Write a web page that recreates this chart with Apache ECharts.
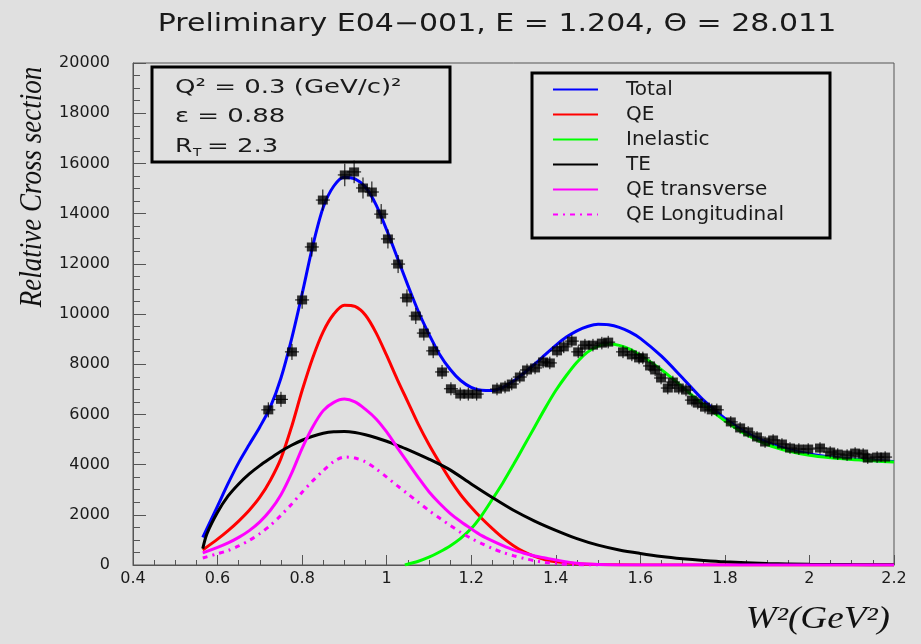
<!DOCTYPE html>
<html>
<head>
<meta charset="utf-8">
<script src="https://cdn.jsdelivr.net/npm/echarts@6/dist/echarts.min.js"></script>
<style>
  html, body { margin: 0; padding: 0; background: #e0e0e0; }
  #chart { width: 921px; height: 644px; }
</style>
</head>
<body>
<div id="chart"></div>
<script>
// ---------------- data ----------------
const titleText = 'Preliminary E04\u2212001, E = 1.204, \u0398 = 28.011';
const xTicks = [0.4, 0.6, 0.8, 1, 1.2, 1.4, 1.6, 1.8, 2, 2.2];
const yTicks = [0, 2000, 4000, 6000, 8000, 10000, 12000, 14000, 16000, 18000, 20000];
const legendNames = ['Total', 'QE', 'Inelastic', 'TE', 'QE transverse', 'QE Longitudinal'];

const totalCurve = [[0.565,1100],[0.6,2350],[0.625,3250],[0.65,4080],[0.675,4800],[0.7,5500],[0.725,6300],[0.75,7450],[0.775,9000],[0.8,10800],[0.825,12700],[0.85,14250],[0.875,15100],[0.9,15450],[0.925,15380],[0.95,15050],[0.975,14350],[1.0,13350],[1.025,12250],[1.05,11150],[1.075,10100],[1.1,9200],[1.125,8400],[1.15,7800],[1.175,7350],[1.2,7080],[1.225,6960],[1.25,6950],[1.275,7080],[1.3,7330],[1.325,7650],[1.35,8000],[1.375,8380],[1.4,8750],[1.425,9080],[1.45,9330],[1.475,9500],[1.5,9590],[1.525,9570],[1.55,9470],[1.575,9290],[1.6,9030],[1.65,8320],[1.7,7450],[1.75,6560],[1.8,5840],[1.85,5280],[1.9,4880],[1.95,4600],[2.0,4420],[2.05,4300],[2.1,4220],[2.15,4160],[2.2,4120]];
const qeCurve = [[0.565,600],[0.6,1030],[0.625,1370],[0.65,1750],[0.675,2180],[0.7,2700],[0.725,3380],[0.75,4250],[0.775,5500],[0.8,6950],[0.825,8250],[0.85,9300],[0.875,10000],[0.9,10350],[0.925,10300],[0.95,9950],[0.975,9250],[1.0,8350],[1.025,7400],[1.05,6500],[1.075,5600],[1.1,4800],[1.125,4080],[1.15,3400],[1.175,2800],[1.2,2300],[1.225,1850],[1.25,1450],[1.275,1080],[1.3,770],[1.325,520],[1.35,340],[1.375,210],[1.4,130],[1.45,50],[1.5,15],[1.6,0],[1.9,0],[2.2,0]];
const inelasticCurve = [[1.043,0],[1.075,150],[1.1,310],[1.125,520],[1.15,760],[1.175,1060],[1.2,1450],[1.225,1980],[1.25,2620],[1.275,3280],[1.3,4000],[1.325,4750],[1.35,5500],[1.375,6250],[1.4,6950],[1.425,7550],[1.45,8080],[1.475,8480],[1.5,8720],[1.525,8800],[1.55,8750],[1.575,8600],[1.6,8360],[1.65,7780],[1.7,7080],[1.75,6380],[1.8,5750],[1.85,5200],[1.9,4800],[1.95,4540],[2.0,4370],[2.05,4270],[2.1,4200],[2.15,4150],[2.2,4100]];
const teCurve = [[0.565,650],[0.575,1250],[0.6,2100],[0.625,2750],[0.65,3230],[0.675,3630],[0.7,3960],[0.725,4250],[0.75,4530],[0.775,4770],[0.8,4970],[0.825,5130],[0.85,5250],[0.875,5310],[0.9,5320],[0.925,5280],[0.95,5190],[0.975,5070],[1.0,4930],[1.025,4770],[1.05,4600],[1.1,4220],[1.15,3790],[1.2,3230],[1.25,2690],[1.3,2180],[1.35,1750],[1.4,1380],[1.45,1050],[1.5,790],[1.55,600],[1.6,460],[1.65,340],[1.7,250],[1.75,180],[1.8,125],[1.9,60],[2.0,30],[2.1,15],[2.2,8]];
const qeTransCurve = [[0.565,480],[0.6,700],[0.625,880],[0.65,1100],[0.675,1370],[0.7,1720],[0.725,2180],[0.75,2800],[0.775,3650],[0.8,4650],[0.825,5500],[0.85,6150],[0.875,6480],[0.9,6610],[0.925,6500],[0.95,6200],[0.975,5820],[1.0,5300],[1.025,4680],[1.05,4080],[1.075,3480],[1.1,2920],[1.125,2460],[1.15,2060],[1.175,1730],[1.2,1440],[1.225,1170],[1.25,960],[1.275,770],[1.3,600],[1.325,470],[1.35,360],[1.375,280],[1.4,200],[1.45,70],[1.5,20],[1.6,0],[1.9,0],[2.2,0]];
const qeLongCurve = [[0.565,280],[0.6,450],[0.625,580],[0.65,760],[0.675,980],[0.7,1250],[0.725,1580],[0.75,1980],[0.775,2420],[0.8,2900],[0.825,3350],[0.85,3760],[0.875,4120],[0.9,4300],[0.925,4260],[0.95,4110],[0.975,3830],[1.0,3500],[1.025,3160],[1.05,2830],[1.075,2500],[1.1,2170],[1.125,1870],[1.15,1580],[1.175,1300],[1.2,1060],[1.225,850],[1.25,660],[1.275,500],[1.3,370],[1.325,260],[1.35,170],[1.375,100],[1.4,55],[1.45,10],[1.5,0]];

const pointX = [0.72,0.75,0.776,0.80,0.823,0.849,0.901,0.923,0.944,0.965,0.987,1.003,1.027,1.048,1.069,1.088,1.11,1.131,1.152,1.174,1.193,1.213,1.261,1.28,1.296,1.315,1.332,1.351,1.37,1.386,1.403,1.419,1.438,1.453,1.469,1.488,1.509,1.524,1.559,1.58,1.597,1.606,1.623,1.635,1.649,1.665,1.677,1.691,1.708,1.722,1.736,1.753,1.769,1.781,1.814,1.836,1.855,1.876,1.895,1.914,1.935,1.954,1.975,1.997,2.025,2.049,2.067,2.089,2.108,2.127,2.138,2.16,2.179];
const pointY = [6180,6600,8490,10560,12670,14540,15540,15660,15020,14860,13980,12990,11990,10640,9920,9240,8530,7690,7020,6810,6810,6810,7010,7090,7210,7490,7770,7850,8090,8050,8530,8690,8920,8490,8760,8760,8840,8880,8490,8370,8250,8250,7930,7770,7450,7050,7290,7050,6970,6570,6450,6290,6180,6180,5700,5460,5300,5100,4900,4980,4820,4660,4620,4620,4660,4500,4420,4380,4460,4420,4260,4300,4300];
const pointErr = [300,300,320,350,380,420,450,450,420,420,400,380,360,340,320,300,290,280,260,260,260,260,250,250,250,250,250,250,250,250,250,250,250,250,250,250,250,250,250,250,250,250,250,250,250,250,250,250,250,250,250,250,250,250,230,230,230,230,230,230,230,230,230,230,230,230,230,230,230,230,230,230,230];

// ---------------- chart ----------------
const pointData = pointX.map((x, i) => [x, pointY[i], pointErr[i]]);
const axisColor = '#555';
const textColor = '#1a1a1a';
const sans = '"DejaVu Sans", sans-serif';
const serif = '"Liberation Serif", "DejaVu Serif", serif';

function curve(name, data, color, type) {
  return {
    name: name, type: 'line', data: data, smooth: 0.3, symbol: 'none', showSymbol: false,
    lineStyle: { color: color, width: 3, type: type || 'solid' },
    itemStyle: { color: color }, z: 3
  };
}

const chart = echarts.init(document.getElementById('chart'), null, { renderer: 'canvas' });
chart.setOption({
  animation: false,
  backgroundColor: '#e0e0e0',
  grid: { left: 133, right: 27, top: 63, bottom: 79, show: true, borderColor: axisColor, borderWidth: 1, backgroundColor: 'transparent' },
  xAxis: {
    type: 'value', min: xTicks[0], max: xTicks[xTicks.length - 1], interval: 0.2,
    axisLine: { show: true, onZero: false, lineStyle: { color: axisColor, width: 1 } },
    axisTick: { show: true, inside: true, length: 10, lineStyle: { color: axisColor } },
    minorTick: { show: true, splitNumber: 4, length: 5, lineStyle: { color: axisColor } },
    splitLine: { show: false },
    axisLabel: { color: textColor, fontSize: 16, fontFamily: sans, margin: 6 }
  },
  yAxis: {
    type: 'value', min: yTicks[0], max: yTicks[yTicks.length - 1], interval: 2000,
    axisLine: { show: true, lineStyle: { color: axisColor, width: 1 } },
    axisTick: { show: true, inside: true, length: 13, lineStyle: { color: axisColor } },
    minorTick: { show: true, splitNumber: 4, length: 7, lineStyle: { color: axisColor } },
    splitLine: { show: false },
    axisLabel: { color: textColor, fontSize: 16, fontFamily: sans, margin: 23, formatter: function (v) { return String(v); } }
  },
  legend: {
    orient: 'vertical', left: 547, top: 72, itemWidth: 45, itemHeight: 14, itemGap: 0,
    selectedMode: false, data: legendNames,
    itemStyle: { opacity: 0 },
    textStyle: { fontSize: 20, fontFamily: sans, color: textColor, lineHeight: 25, padding: [0, 0, 0, 23] }
  },
  series: [
    curve(legendNames[0], totalCurve, '#0000ff'),
    curve(legendNames[1], qeCurve, '#ff0000'),
    curve(legendNames[2], inelasticCurve, '#00ff00'),
    curve(legendNames[3], teCurve, '#000000'),
    curve(legendNames[4], qeTransCurve, '#ff00ff'),
    curve(legendNames[5], qeLongCurve, '#ff00ff', [5, 5, 2, 5]),
    {
      name: 'Data errors', type: 'custom', data: pointData, z: 5,
      encode: { x: 0, y: 1 },
      renderItem: function (params, api) {
        const x = api.value(0), y = api.value(1), e = api.value(2);
        const top = api.coord([x, y + e]);
        const bot = api.coord([x, y - e]);
        const c = api.coord([x, y]);
        return {
          type: 'group',
          children: [
            { type: 'line', shape: { x1: top[0], y1: top[1], x2: bot[0], y2: bot[1] }, style: { stroke: '#000', lineWidth: 1 } },
            { type: 'line', shape: { x1: c[0] - 7, y1: c[1], x2: c[0] + 7, y2: c[1] }, style: { stroke: '#000', lineWidth: 1 } }
          ]
        };
      }
    },
    {
      name: 'Data', type: 'scatter', data: pointData, symbol: 'rect', symbolSize: [10, 9],
      itemStyle: { color: '#000' }, z: 6
    }
  ],
  graphic: [
    { type: 'text', x: 497, y: 25, scaleX: 1.25, style: { text: titleText, fontSize: 24, fontFamily: sans, fill: textColor, align: 'center', verticalAlign: 'middle' } },
    { type: 'rect', shape: { x: 152, y: 67, width: 298, height: 95 }, style: { fill: 'none', stroke: '#000', lineWidth: 3 } },
    { type: 'text', x: 175, y: 88, scaleX: 1.3, style: { text: 'Q\u00b2 = 0.3 (GeV/c)\u00b2', fontSize: 20, fontFamily: sans, fill: textColor, align: 'left', verticalAlign: 'middle' } },
    { type: 'text', x: 175, y: 117, scaleX: 1.3, style: { text: '\u03b5 = 0.88', fontSize: 20, fontFamily: sans, fill: textColor, align: 'left', verticalAlign: 'middle' } },
    { type: 'text', x: 175, y: 147, scaleX: 1.25, style: { text: 'R', fontSize: 20, fontFamily: sans, fill: textColor, align: 'left', verticalAlign: 'middle' } },
    { type: 'text', x: 193, y: 153, scaleX: 1.25, style: { text: 'T', fontSize: 11, fontFamily: sans, fill: textColor, align: 'left', verticalAlign: 'middle' } },
    { type: 'text', x: 207, y: 147, scaleX: 1.3, style: { text: '= 2.3', fontSize: 20, fontFamily: sans, fill: textColor, align: 'left', verticalAlign: 'middle' } },
    { type: 'rect', shape: { x: 532, y: 73, width: 298, height: 165 }, style: { fill: 'none', stroke: '#000', lineWidth: 3 } },
    { type: 'text', x: 33, y: 187, rotation: Math.PI / 2, scaleY: 1.15, style: { text: 'Relative Cross section', fontSize: 27, fontFamily: serif, fontStyle: 'italic', fill: '#111', align: 'center', verticalAlign: 'middle' } },
    { type: 'text', x: 890, y: 620, scaleX: 1.2, style: { text: 'W\u00b2(GeV\u00b2)', fontSize: 31, fontFamily: serif, fontStyle: 'italic', fill: '#111', align: 'right', verticalAlign: 'middle' } }
  ]
});
</script>
</body>
</html>
